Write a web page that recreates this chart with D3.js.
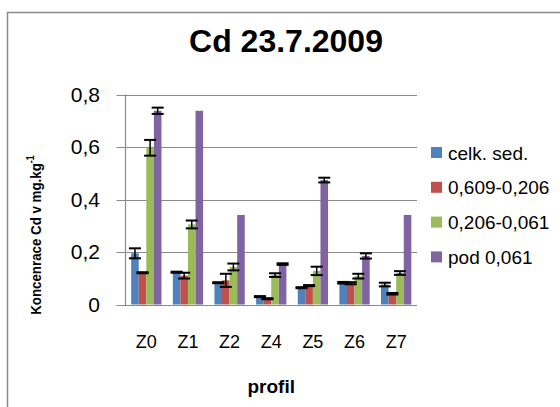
<!DOCTYPE html>
<html><head><meta charset="utf-8">
<script src="https://cdn.jsdelivr.net/npm/d3@7"></script>
<style>html,body{margin:0;padding:0;background:#fff;overflow:hidden}</style>
</head><body>
<script>
const categories = ["Z0","Z1","Z2","Z4","Z5","Z6","Z7"];
const seriesNames = ["celk. sed.","0,609-0,206","0,206-0,061","pod 0,061"];
const celkSed   = [0.195, 0.123, 0.083, 0.030, 0.064, 0.083, 0.076];
const frac609   = [0.121, 0.110, 0.092, 0.022, 0.072, 0.081, 0.041];
const frac206   = [0.597, 0.305, 0.143, 0.112, 0.128, 0.108, 0.120];
const pod061    = [0.738, 0.738, 0.341, 0.154, 0.474, 0.185, 0.341];
const errCelk   = [0.019, 0.002, 0.002, 0.002, 0.002, 0.003, 0.007];
const err609    = [0.002, 0.011, 0.025, 0.002, 0.002, 0.004, 0.003];
const err206    = [0.030, 0.015, 0.013, 0.007, 0.016, 0.009, 0.007];
const errPod    = [0.012, null, null, 0.003, 0.009, 0.010, null];
const yTicks = [0, 0.2, 0.4, 0.6, 0.8];
const yTickLabels = ["0","0,2","0,4","0,6","0,8"];
const colors = ["#4F81BD","#C0504D","#9BBB59","#8064A2"];

const values = [celkSed, frac609, frac206, pod061];
const errors = [errCelk, err609, err206, errPod];

const W = 560, H = 407;
const svg = d3.select("body").append("svg").attr("width", W).attr("height", H);
svg.append("rect").attr("width", W).attr("height", H).attr("fill", "#fff");

// frame
svg.append("path").attr("d", "M7.5,420 L7.5,12.5 L570,12.5")
  .attr("fill","none").attr("stroke","#8a8a8a").attr("stroke-width",1.5);

const plotL = 125.5, plotR = 417, plotT = 94.5, plotB = 304.5;
const x = d3.scaleBand().domain(categories).range([plotL, plotR]).padding(0);
const bw = x.bandwidth() / 5.5;
const xs = d3.scaleBand().domain(d3.range(4)).range([0.75*bw, 4.75*bw]).padding(0);
const y = d3.scaleLinear().domain([0, 0.8]).range([plotB, plotT]);

const font = "'Liberation Sans', Arial, sans-serif";

// gridlines
svg.append("g").selectAll("line").data(yTicks).join("line")
  .attr("x1", plotL - 9).attr("x2", plotR)
  .attr("y1", d => Math.round(y(d)) + 0.5).attr("y2", d => Math.round(y(d)) + 0.5)
  .attr("stroke", "#8a8a8a").attr("stroke-width", 1.2);
// y axis line
svg.append("line").attr("x1", plotL).attr("x2", plotL).attr("y1", plotT).attr("y2", plotB + 0.5)
  .attr("stroke", "#8a8a8a").attr("stroke-width", 1.2);

// y tick labels
svg.append("g").selectAll("text").data(yTicks).join("text")
  .attr("x", 100).attr("y", d => y(d) + 7)
  .attr("text-anchor", "end").attr("font-family", font).attr("font-size", 21)
  .attr("fill", "#000").text((d, i) => yTickLabels[i]);

// bars
const gBars = svg.append("g");
categories.forEach((c, ci) => {
  values.forEach((arr, si) => {
    const v = arr[ci];
    gBars.append("rect")
      .attr("x", x(c) + xs(si)).attr("width", xs.bandwidth())
      .attr("y", y(v)).attr("height", y(0) - y(v))
      .attr("fill", colors[si]);
  });
});

// error bars
const gErr = svg.append("g").attr("stroke", "#000");
categories.forEach((c, ci) => {
  values.forEach((arr, si) => {
    const e = errors[si][ci];
    if (e == null) return;
    const v = arr[ci];
    const cx = x(c) + xs(si) + xs.bandwidth() / 2;
    const y1 = y(v + e), y2 = y(v - e);
    gErr.append("line").attr("x1", cx).attr("x2", cx).attr("y1", y1).attr("y2", y2).attr("stroke-width", 1.5);
    [y1, y2].forEach(yy => gErr.append("line")
      .attr("x1", cx - 6).attr("x2", cx + 6).attr("y1", yy).attr("y2", yy).attr("stroke-width", 2));
  });
});

// x labels
svg.append("g").selectAll("text").data(categories).join("text")
  .attr("x", d => x(d) + x.bandwidth() / 2).attr("y", 348)
  .attr("text-anchor", "middle").attr("font-family", font).attr("font-size", 18)
  .attr("fill", "#000").text(d => d);

// title
svg.append("text").attr("x", 286).attr("y", 52).attr("text-anchor", "middle")
  .attr("font-family", font).attr("font-size", 32).attr("font-weight", "bold")
  .text("Cd 23.7.2009");

// x axis title
svg.append("text").attr("x", (plotL + plotR) / 2).attr("y", 393).attr("text-anchor", "middle")
  .attr("font-family", font).attr("font-size", 19).attr("font-weight", "bold")
  .text("profil");

// y axis title
const yt = svg.append("text").attr("transform", "translate(40.5,235) rotate(-90) scale(0.86,1)")
  .attr("text-anchor", "middle").attr("font-family", font).attr("font-size", 15.5).attr("font-weight", "bold");
yt.append("tspan").text("Koncenrace Cd v mg.kg");
yt.append("tspan").attr("dy", -7).attr("font-size", 10.5).text("-1");

// legend
const lg = svg.append("g");
seriesNames.forEach((n, i) => {
  const cy = 152.5 + i * 34.8;
  lg.append("rect").attr("x", 431).attr("y", cy - 5.5).attr("width", 11).attr("height", 11).attr("fill", colors[i]);
  lg.append("text").attr("x", 448).attr("y", cy + 7).attr("font-family", font).attr("font-size", 19)
    .attr("fill", "#000").text(n);
});
</script>
</body></html>
